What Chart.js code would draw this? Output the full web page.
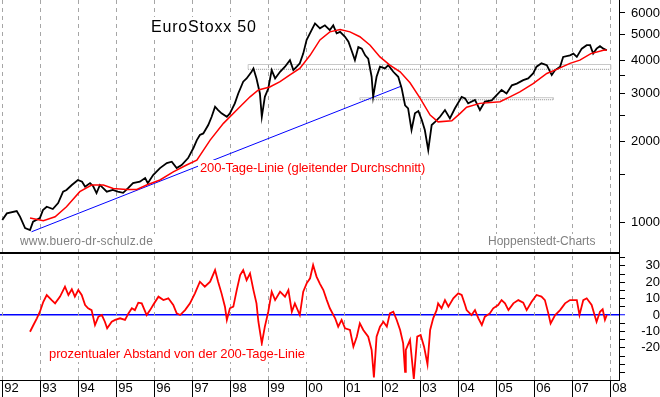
<!DOCTYPE html>
<html>
<head>
<meta charset="utf-8">
<script src="https://cdn.jsdelivr.net/npm/chart.js@4"></script>
<style>
  html, body { margin: 0; padding: 0; background: #fff; }
  #wrap { width: 660px; height: 397px; }
</style>
</head>
<body>
<div id="wrap"><canvas id="euroStoxx"></canvas></div>
<script>
const yearTicks = [1992, 1993, 1994, 1995, 1996, 1997, 1998, 1999, 2000, 2001, 2002, 2003, 2004, 2005, 2006, 2007, 2008]
const yearLabels = ['92', '93', '94', '95', '96', '97', '98', '99', '00', '01', '02', '03', '04', '05', '06', '07', '08']

// EuroStoxx 50 (Tagesschluss)
const priceYears = [
  1992.00, 1992.12, 1992.38, 1992.47, 1992.60, 1992.73, 1992.81, 1992.99, 1993.07, 1993.17,
  1993.33, 1993.47, 1993.60, 1993.69, 1993.83, 1993.99, 1994.10, 1994.18, 1994.31, 1994.39,
  1994.48, 1994.57, 1994.75, 1994.91, 1995.04, 1995.18, 1995.31, 1995.44, 1995.62, 1995.76,
  1995.83, 1995.97, 1996.15, 1996.33, 1996.46, 1996.59, 1996.72, 1996.89, 1997.03, 1997.12,
  1997.20, 1997.29, 1997.42, 1997.51, 1997.60, 1997.68, 1997.77, 1997.91, 1997.99, 1998.12,
  1998.21, 1998.34, 1998.43, 1998.56, 1998.61, 1998.69, 1998.78, 1998.83, 1998.91, 1999.00,
  1999.09, 1999.18, 1999.31, 1999.44, 1999.57, 1999.66, 1999.75, 1999.83, 1999.92, 2000.01,
  2000.14, 2000.23, 2000.36, 2000.49, 2000.62, 2000.71, 2000.80, 2000.89, 2001.02, 2001.11,
  2001.19, 2001.28, 2001.37, 2001.46, 2001.55, 2001.63, 2001.72, 2001.76, 2001.85, 2001.94,
  2002.07, 2002.16, 2002.29, 2002.42, 2002.51, 2002.60, 2002.68, 2002.77, 2002.86, 2002.95,
  2003.04, 2003.12, 2003.21, 2003.30, 2003.39, 2003.52, 2003.65, 2003.78, 2003.91, 2004.09,
  2004.18, 2004.26, 2004.44, 2004.57, 2004.70, 2004.88, 2005.01, 2005.14, 2005.27, 2005.41,
  2005.54, 2005.71, 2005.84, 2005.97, 2006.06, 2006.19, 2006.33, 2006.46, 2006.55, 2006.68,
  2006.76, 2006.94, 2007.03, 2007.12, 2007.25, 2007.38, 2007.47, 2007.55, 2007.64, 2007.73,
  2007.82, 2007.91
]
const priceValues = [
  1017, 1077, 1099, 1046, 950, 934, 1003, 1035, 1108, 1140,
  1118, 1177, 1297, 1316, 1374, 1434, 1413, 1353, 1396, 1361,
  1282, 1374, 1297, 1316, 1297, 1285, 1338, 1396, 1413, 1458,
  1396, 1496, 1588, 1658, 1677, 1588, 1630, 1730, 1886, 2018,
  2109, 2137, 2297, 2465, 2686, 2612, 2538, 2465, 2538, 2765,
  3010, 3330, 3424, 3625, 3731, 3424, 3010, 2465, 2925, 3140,
  3678, 3424, 3625, 3787, 4006, 3678, 3787, 3896, 4236, 4764,
  5183, 5486, 5260, 5397, 5183, 5397, 5043, 5103, 4894, 4689,
  4361, 4006, 4482, 4420, 4175, 4056, 3474, 2925, 3474, 3787,
  3731, 3838, 3625, 3474, 3150, 2720, 2650, 2200, 2540, 2590,
  2398, 2200, 1853, 2297, 2360, 2465, 2612, 2432, 2646, 2925,
  2887, 2765, 2848, 2612, 2806, 2835, 2967, 3101, 3010, 3229,
  3275, 3373, 3424, 3574, 3787, 3896, 3838, 3528, 3678, 3787,
  4118, 4175, 4236, 4118, 4420, 4553, 4553, 4236, 4420, 4513,
  4420, 4361
]

// 200-Tage-Linie
const avgYears = [
  1992.73, 1993.08, 1993.39, 1993.69, 1994.04, 1994.35, 1994.66, 1994.92, 1995.27, 1995.54,
  1995.80, 1996.15, 1996.50, 1996.85, 1997.12, 1997.47, 1997.82, 1998.17, 1998.52, 1998.74,
  1999.04, 1999.31, 1999.57, 1999.83, 2000.10, 2000.36, 2000.62, 2000.89, 2001.15, 2001.41,
  2001.68, 2001.94, 2002.20, 2002.47, 2002.73, 2002.99, 2003.26, 2003.47, 2003.83, 2004.05,
  2004.22, 2004.57, 2005.10, 2005.36, 2005.62, 2005.97, 2006.33, 2006.59, 2006.94, 2007.20,
  2007.49, 2007.82, 2007.91
]
const avgValues = [
  1035, 1011, 1046, 1140, 1297, 1374, 1374, 1334, 1322, 1322,
  1374, 1434, 1538, 1630, 1700, 2018, 2330, 2612, 2925, 3101,
  3183, 3330, 3528, 3731, 4175, 4764, 5103, 5210, 5103, 4894,
  4553, 4118, 3838, 3625, 3300, 2900, 2501, 2360, 2380, 2538,
  2675, 2765, 2806, 2925, 3053, 3275, 3574, 3699, 3896, 4006,
  4236, 4361, 4370
]

// prozentualer Abstand von der 200-Tage-Linie
const gapYears = [
  1992.73, 1992.82, 1992.91, 1992.99, 1993.08, 1993.17, 1993.30, 1993.39, 1993.52, 1993.65,
  1993.74, 1993.83, 1993.91, 1994.00, 1994.09, 1994.18, 1994.26, 1994.35, 1994.44, 1994.53,
  1994.62, 1994.70, 1994.76, 1994.88, 1994.97, 1995.10, 1995.23, 1995.32, 1995.41, 1995.49,
  1995.58, 1995.67, 1995.80, 1995.89, 1995.97, 1996.11, 1996.24, 1996.37, 1996.50, 1996.59,
  1996.68, 1996.81, 1996.94, 1997.07, 1997.20, 1997.33, 1997.47, 1997.60, 1997.68, 1997.77,
  1997.86, 1997.91, 1997.99, 1998.08, 1998.17, 1998.26, 1998.34, 1998.43, 1998.52, 1998.61,
  1998.69, 1998.74, 1998.83, 1998.91, 1999.00, 1999.09, 1999.18, 1999.31, 1999.44, 1999.53,
  1999.62, 1999.70, 1999.83, 1999.92, 2000.01, 2000.10, 2000.18, 2000.27, 2000.36, 2000.45,
  2000.54, 2000.62, 2000.76, 2000.84, 2000.93, 2001.02, 2001.15, 2001.24, 2001.33, 2001.41,
  2001.50, 2001.63, 2001.72, 2001.78, 2001.85, 2001.94, 2002.03, 2002.12, 2002.20, 2002.29,
  2002.38, 2002.47, 2002.55, 2002.60, 2002.62, 2002.73, 2002.83, 2002.92, 2003.01, 2003.10,
  2003.19, 2003.26, 2003.34, 2003.43, 2003.47, 2003.56, 2003.65, 2003.74, 2003.87, 2004.00,
  2004.09, 2004.18, 2004.22, 2004.35, 2004.44, 2004.53, 2004.62, 2004.70, 2004.83, 2004.92,
  2005.05, 2005.14, 2005.23, 2005.32, 2005.45, 2005.58, 2005.71, 2005.80, 2005.93, 2006.06,
  2006.19, 2006.28, 2006.37, 2006.43, 2006.55, 2006.68, 2006.81, 2006.94, 2007.12, 2007.19,
  2007.29, 2007.38, 2007.51, 2007.60, 2007.64, 2007.73, 2007.80, 2007.86, 2007.91
]
const gapValues = [
  -10.2, -6.1, -2, 2, 8.1, 12.2, 9.1, 7.1, 11.2, 17.3,
  12.2, 15.7, 11.2, 15.2, 12.2, 6.1, 4.1, 3, -6.1, -1,
  0, -4.1, -8.1, -4.1, -3, -2, -3, 1, 4.1, 3,
  7.5, 7.1, 0, 3, 6.1, 11.2, 9.1, 10.2, 6.1, 1,
  0, 3, 7.1, 13.2, 20.3, 17.3, 20.3, 27.4, 20.3, 13.2,
  5.1, -3, 4.1, 5.1, 15.2, 24.4, 27.4, 21.3, 25.4, 15.2,
  7.1, -4.1, -17.3, -7.1, 2, 14.2, 9.1, 14.2, 11.2, 15.2,
  2, 7.1, 0, 14.2, 19.3, 22.4, 30.5, 23.4, 19, 15.2,
  9.1, 4.1, -2, -7.1, -3, -8.1, -9.1, -19.3, -13.2, -5.1,
  -9.1, -13.2, -21.3, -38, -13.2, -7.1, -4.1, -7.1, 1, 2,
  -3, -9.1, -17.3, -34.6, -21.3, -15.2, -39, -13.2, -12.2, -19.3,
  -30, -9.1, -2, 3, 7.1, 4.1, 9.1, 5.1, 10.2, 13.2,
  12.2, 6.1, 3, 0, 3, -2, -6.1, -1, 1, 4.1,
  6.1, 9.1, 7.1, 3, 7.1, 9.1, 7.5, 3, 8.1, 12.2,
  11.2, 9.1, 1, -5.1, 0, 3, 7.1, 9.1, 9.1, 0,
  9.1, 10.2, 6.1, -1, -4.1, 2, 3.5, -3, 0
]

// Trendlinie und Widerstands-/Unterstuetzungszonen
const trendYears = [1992.77, 2002.51]
const trendValues = [920, 3209]
const upperZoneYears = [1998.47, 2008.01]
const upperZoneValues = [3703, 3858]
const lowerZoneYears = [2001.41, 2006.50]
const lowerZoneValues = [2853, 2903]

const priceTicks = [1000, 1500, 2000, 2500, 3000, 3500, 4000, 5000, 6000]
const priceTickLabels = [1000, 2000, 3000, 4000, 5000, 6000]
const gapTicks = [-35, -30, -25, -20, -15, -10, -5, 0, 5, 10, 15, 20, 25, 30, 35]
const gapTickLabels = [-20, -10, 0, 10, 20, 30]

const pts = (xs, ys) => xs.map((x, i) => ({ x, y: ys[i] }))
const zoneOutline = (xs, ys) => [
  { x: xs[0], y: ys[0] }, { x: xs[0], y: ys[1] }, { x: xs[1], y: ys[1] }, { x: xs[1], y: ys[0] }
]
const zoneBase = (xs, ys) => [{ x: xs[0], y: ys[0] }, { x: xs[1], y: ys[0] }]

Chart.defaults.font.family = "'Liberation Sans', Arial, sans-serif"
Chart.defaults.font.size = 13
Chart.defaults.color = '#000'

// gestrichelte Jahreslinien ueber beide Felder
const yearGrid = {
  id: 'yearGrid',
  beforeDatasetsDraw(chart) {
    const ctx = chart.ctx
    const area = chart.chartArea
    const x = chart.scales.x
    ctx.save()
    ctx.strokeStyle = '#a6a6a6'
    ctx.lineWidth = 1
    ctx.setLineDash([4, 4])
    ctx.lineDashOffset = 0
    yearTicks.forEach(v => {
      const px = Math.round(x.getPixelForValue(v)) + 0.5
      ctx.beginPath()
      ctx.moveTo(px, area.top)
      ctx.lineTo(px, area.bottom)
      ctx.stroke()
    })
    ctx.restore()
  }
}

const notes = {
  id: 'notes',
  afterDatasetsDraw(chart) {
    const ctx = chart.ctx
    const area = chart.chartArea
    const top = chart.scales.y
    ctx.save()
    ctx.strokeStyle = '#000'
    ctx.lineWidth = 2
    ctx.beginPath()
    ctx.moveTo(area.left, top.bottom)
    ctx.lineTo(area.right, top.bottom)
    ctx.stroke()

    const label = (text, x, base, size, color, spacing) => {
      ctx.font = size + "px 'Liberation Sans', Arial, sans-serif"
      ctx.letterSpacing = (spacing || 0) + 'px'
      const w = ctx.measureText(text).width
      ctx.fillStyle = '#fff'
      ctx.fillRect(x - 2, base - size + 1, w + 4, size + 3)
      ctx.fillStyle = color
      ctx.textBaseline = 'alphabetic'
      ctx.textAlign = 'left'
      ctx.fillText(text, x, base)
    }
    label('EuroStoxx 50', 151, 32, 16, '#000', 0.8)
    label('200-Tage-Linie (gleitender Durchschnitt)', 200, 172, 13, '#ff0000', -0.15)
    label('www.buero-dr-schulz.de', 20, 245, 12, '#808080', 0.2)
    label('Hoppenstedt-Charts', 488, 245, 12, '#808080', 0)
    label('prozentualer Abstand von der 200-Tage-Linie', 49, 358, 13, '#ff0000', -0.1)
    ctx.restore()
  }
}

const line = { pointRadius: 0, fill: false, tension: 0 }

new Chart(document.getElementById('euroStoxx'), {
  type: 'line',
  data: {
    datasets: [
      { ...line, label: '200-Tage-Linie', data: pts(avgYears, avgValues), yAxisID: 'y', borderColor: '#ff0000', borderWidth: 1.5, order: 1 },
      { ...line, label: 'EuroStoxx 50', data: pts(priceYears, priceValues), yAxisID: 'y', borderColor: '#000000', borderWidth: 1.8, order: 2 },
      { ...line, label: 'Trendlinie', data: pts(trendYears, trendValues), yAxisID: 'y', borderColor: '#0000ff', borderWidth: 1, order: 3 },
      { ...line, label: 'Zone oben', data: zoneOutline(upperZoneYears, upperZoneValues), yAxisID: 'y', borderColor: '#c8c8c8', borderWidth: 1, order: 4 },
      { ...line, label: 'Zone oben Basis', data: zoneBase(upperZoneYears, upperZoneValues), yAxisID: 'y', borderColor: '#8c8c8c', borderWidth: 1, borderDash: [1, 1], order: 4 },
      { ...line, label: 'Zone unten', data: zoneOutline(lowerZoneYears, lowerZoneValues), yAxisID: 'y', borderColor: '#c8c8c8', borderWidth: 1, order: 4 },
      { ...line, label: 'Zone unten Basis', data: zoneBase(lowerZoneYears, lowerZoneValues), yAxisID: 'y', borderColor: '#8c8c8c', borderWidth: 1, borderDash: [1, 1], order: 4 },
      { ...line, label: 'Abstand', data: pts(gapYears, gapValues), yAxisID: 'y2', borderColor: '#ff0000', borderWidth: 1.8, order: 1 }
    ]
  },
  options: {
    responsive: true,
    maintainAspectRatio: false,
    animation: false,
    devicePixelRatio: 1,
    layout: { padding: 0 },
    plugins: {
      legend: { display: false },
      tooltip: { enabled: false }
    },
    scales: {
      x: {
        type: 'linear',
        position: 'bottom',
        min: 1991.94,
        max: 2008.23,
        afterBuildTicks: s => { s.ticks = yearTicks.map(v => ({ value: v })) },
        afterFit: s => { s.height = 17; s.paddingLeft = 0; s.paddingRight = 0 },
        ticks: {
          autoSkip: false,
          maxRotation: 0,
          align: 'start',
          labelOffset: 2,
          padding: -16,
          font: { size: 13 },
          callback: (v, i) => yearLabels[i]
        },
        grid: { drawOnChartArea: false, tickColor: '#000', tickLength: 17, tickWidth: 1 },
        border: { display: true, color: '#000', width: 1 }
      },
      y: {
        type: 'logarithmic',
        position: 'right',
        stack: 'panels',
        stackWeight: 253,
        min: 767,
        max: 6706,
        afterBuildTicks: s => { s.ticks = priceTicks.map(v => ({ value: v })) },
        afterFit: s => { s.width = 41; s.paddingTop = 0; s.paddingBottom = 0 },
        ticks: {
          autoSkip: false,
          crossAlign: 'far',
          padding: 3,
          font: { size: 13 },
          callback: v => priceTickLabels.includes(v) ? String(v) : ''
        },
        grid: { drawOnChartArea: false, tickColor: '#000', tickLength: 6, tickWidth: 1 },
        border: { display: true, color: '#000', width: 1 }
      },
      y2: {
        type: 'linear',
        position: 'right',
        stack: 'panels',
        stackWeight: 127,
        min: -39.6,
        max: 37.8,
        afterBuildTicks: s => { s.ticks = gapTicks.map(v => ({ value: v })) },
        afterFit: s => { s.width = 41; s.paddingTop = 0; s.paddingBottom = 0 },
        ticks: {
          autoSkip: false,
          crossAlign: 'far',
          padding: 13,
          font: { size: 13 },
          callback: v => gapTickLabels.includes(v) ? String(v) : ''
        },
        grid: {
          drawOnChartArea: true,
          color: c => c.tick && c.tick.value === 0 ? '#0000ff' : 'rgba(0,0,0,0)',
          lineWidth: c => c.tick && c.tick.value === 0 ? 1.5 : 1,
          tickColor: c => c.tick && c.tick.value === 0 ? '#0000ff' : '#000',
          tickLength: 6,
          tickWidth: 1
        },
        border: { display: true, color: '#000', width: 1 }
      }
    }
  },
  plugins: [yearGrid, notes]
})
</script>
</body>
</html>
